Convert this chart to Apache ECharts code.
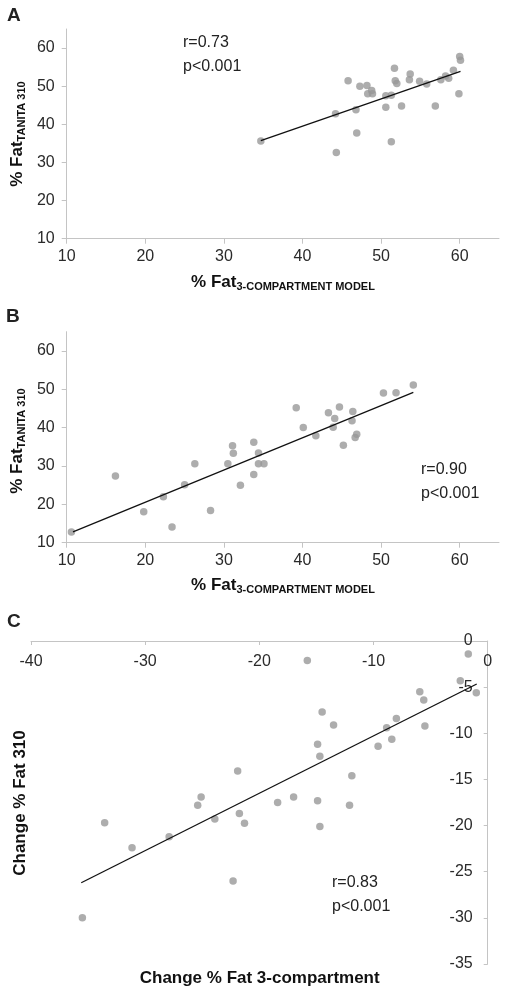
<!DOCTYPE html>
<html><head><meta charset="utf-8">
<script src="https://cdn.jsdelivr.net/npm/echarts@6/dist/echarts.min.js"></script>
<style>html,body{margin:0;padding:0;background:#fff}#c{width:508px;height:994px}</style>
</head><body><div id="c"></div>
<script>
// Panel A: % Fat 3-compartment (x) vs % Fat Tanita 310 (y)
const aX = [34.7,44.2,44.3,45.8,46.8,46.9,47.3,48.2,48.3,48.8,48.9,50.6,50.6,51.3,51.3,51.7,51.8,52.0,52.6,53.6,53.7,54.9,55.8,56.9,57.6,58.2,58.6,59.2,59.9,60.0,60.1];
const aY = [35.6,42.8,32.6,51.4,43.8,37.7,50.0,50.2,48.0,48.9,48.0,47.5,44.5,47.6,35.4,54.7,51.4,50.7,44.8,51.7,53.2,51.3,50.6,44.8,51.7,52.7,52.1,54.2,48.0,57.8,56.8];
const aFitX = [34.7, 60.1];
const aFitY = [35.7, 53.9];
// Panel B
const bX = [10.6,16.2,19.8,22.3,23.4,25.0,26.3,28.3,30.5,31.1,31.2,32.1,33.8,33.8,34.4,34.4,35.1,39.2,40.1,41.7,43.3,43.9,44.1,44.7,45.2,46.3,46.4,46.7,46.9,50.3,51.9,54.1];
const bY = [12.8,27.4,18.1,22.0,14.1,25.1,30.6,18.4,30.6,35.3,33.3,25.0,27.8,36.2,33.4,30.6,30.6,45.2,40.0,37.9,43.9,40.1,42.4,45.4,35.4,41.8,44.2,37.4,38.3,49.0,49.1,51.1];
const bFitX = [10.8, 54.1];
const bFitY = [12.8, 49.2];
// Panel C: change in % fat
const cX = [-35.5,-33.55,-31.15,-27.9,-25.4,-25.1,-23.9,-22.3,-21.9,-21.75,-21.3,-18.4,-17.0,-15.8,-14.9,-14.9,-14.7,-14.7,-14.5,-13.5,-12.1,-11.9,-9.6,-8.85,-8.4,-8.0,-5.95,-5.6,-5.5,-2.4,-1.7,-1.0];
const cY = [-30.0,-19.7,-22.4,-21.2,-17.8,-16.9,-19.3,-26.0,-14.1,-18.7,-19.75,-17.5,-16.9,-2.1,-17.3,-11.2,-20.1,-12.5,-7.7,-9.1,-17.8,-14.6,-11.4,-9.4,-10.65,-8.4,-5.5,-6.4,-9.2,-4.3,-1.4,-5.6];
const cFitX = [-35.6, -0.96];
const cFitY = [-26.2, -4.66];
const ticksAB = [10,20,30,40,50,60];
const ticksCX = [-40,-30,-20,-10,0];
const ticksCY = [0,-5,-10,-15,-20,-25,-30,-35];
const stats = [['r=0.73','p<0.001'],['r=0.90','p<0.001'],['r=0.83','p<0.001']];

const zip = (xs, ys) => xs.map((x, i) => [x, ys[i]]);
const FONT = '"Liberation Sans", Arial, sans-serif';
const AXC = '#c4c4c4';
const LBL = {color: '#2a2a2a', fontSize: 16, fontFamily: FONT};

function abX(idx) {
  return {gridIndex: idx, type: 'value', min: 10, max: 65, interval: 10, splitLine: {show: false},
    axisLine: {onZero: false, lineStyle: {color: AXC, width: 1}},
    axisTick: {length: 5, lineStyle: {color: AXC}, customValues: ticksAB},
    axisLabel: Object.assign({margin: 10, customValues: ticksAB}, LBL)};
}
function abY(idx) {
  return {gridIndex: idx, type: 'value', min: 10, max: 65, interval: 10, splitLine: {show: false},
    axisLine: {show: true, onZero: false, lineStyle: {color: AXC, width: 1}},
    axisTick: {show: true, length: 5, lineStyle: {color: AXC}, customValues: ticksAB},
    axisLabel: Object.assign({margin: 12, customValues: ticksAB}, LBL)};
}
const dot = {symbol: 'circle', symbolSize: 7.5, itemStyle: {color: '#999999'}, silent: true};
const fit = {type: 'line', symbol: 'none', lineStyle: {color: '#111', width: 1.3}, silent: true, z: 3};

const rich = {
  a: {fontSize: 17, fontWeight: 'bold', fontFamily: FONT, color: '#111', lineHeight: 20},
  b: {fontSize: 11, fontWeight: 'bold', fontFamily: FONT, color: '#111', lineHeight: 11, padding: [10, 0, 0, 0]}
};
function ttl(x, y, text, rot, useRich) {
  const st = {text: text, x: 0, y: 0, align: 'center', verticalAlign: 'middle', fill: '#111',
    font: 'bold 17px ' + FONT};
  if (useRich) st.rich = rich;
  return {type: 'text', x: x, y: y, rotation: rot ? Math.PI / 2 : 0, style: st};
}
function note(x, y, text, size, bold) {
  return {type: 'text', x: x, y: y, style: {text: text, align: 'left', verticalAlign: 'middle', fill: '#222',
    font: (bold ? 'bold ' : '') + size + 'px ' + FONT}};
}

const option = {
  animation: false,
  grid: [
    {left: 66.7, right: 9, top: 29, height: 209.7},
    {left: 66.7, right: 9, top: 331.7, height: 211},
    {left: 31, right: 20.3, top: 641, height: 323}
  ],
  xAxis: [abX(0), abX(1),
    {gridIndex: 2, type: 'value', position: 'top', min: -40, max: 0, interval: 10, splitLine: {show: false},
     axisLine: {onZero: false, lineStyle: {color: AXC}},
     axisTick: {inside: true, length: 4, lineStyle: {color: AXC}},
     axisLabel: Object.assign({inside: true, margin: 13, customValues: ticksCX}, LBL)}],
  yAxis: [abY(0), abY(1),
    {gridIndex: 2, type: 'value', position: 'right', min: -35, max: 0, interval: 5, splitLine: {show: false},
     axisLine: {show: true, onZero: false, lineStyle: {color: AXC}},
     axisTick: {show: true, inside: true, length: 4, lineStyle: {color: AXC}},
     axisLabel: Object.assign({inside: true, margin: 15, customValues: ticksCY}, LBL)}],
  series: [
    Object.assign({type: 'scatter', xAxisIndex: 0, yAxisIndex: 0, data: zip(aX, aY)}, dot),
    Object.assign({xAxisIndex: 0, yAxisIndex: 0, data: zip(aFitX, aFitY)}, fit),
    Object.assign({type: 'scatter', xAxisIndex: 1, yAxisIndex: 1, data: zip(bX, bY)}, dot),
    Object.assign({xAxisIndex: 1, yAxisIndex: 1, data: zip(bFitX, bFitY)}, fit),
    Object.assign({type: 'scatter', xAxisIndex: 2, yAxisIndex: 2, data: zip(cX, cY)}, dot),
    Object.assign({xAxisIndex: 2, yAxisIndex: 2, data: zip(cFitX, cFitY)}, fit)
  ],
  graphic: [
    note(7, 16, 'A', 19, true), note(6, 317, 'B', 19, true), note(7, 622, 'C', 19, true),
    note(183, 43, stats[0][0], 16), note(183, 67, stats[0][1], 16),
    note(421, 470, stats[1][0], 16), note(421, 494, stats[1][1], 16),
    note(332, 883, stats[2][0], 16), note(332, 907, stats[2][1], 16),
    ttl(17, 134, '{a|% Fat}{b|TANITA 310}', true, true),
    ttl(283, 282, '{a|% Fat}{b|3-COMPARTMENT MODEL}', false, true),
    ttl(17, 441, '{a|% Fat}{b|TANITA 310}', true, true),
    ttl(283, 585, '{a|% Fat}{b|3-COMPARTMENT MODEL}', false, true),
    ttl(20.7, 803, 'Change % Fat 310', true, false),
    ttl(259.7, 978, 'Change % Fat 3-compartment', false, false)
  ]
};
echarts.init(document.getElementById('c'), null, {renderer: 'canvas'}).setOption(option);
</script>
</body></html>
